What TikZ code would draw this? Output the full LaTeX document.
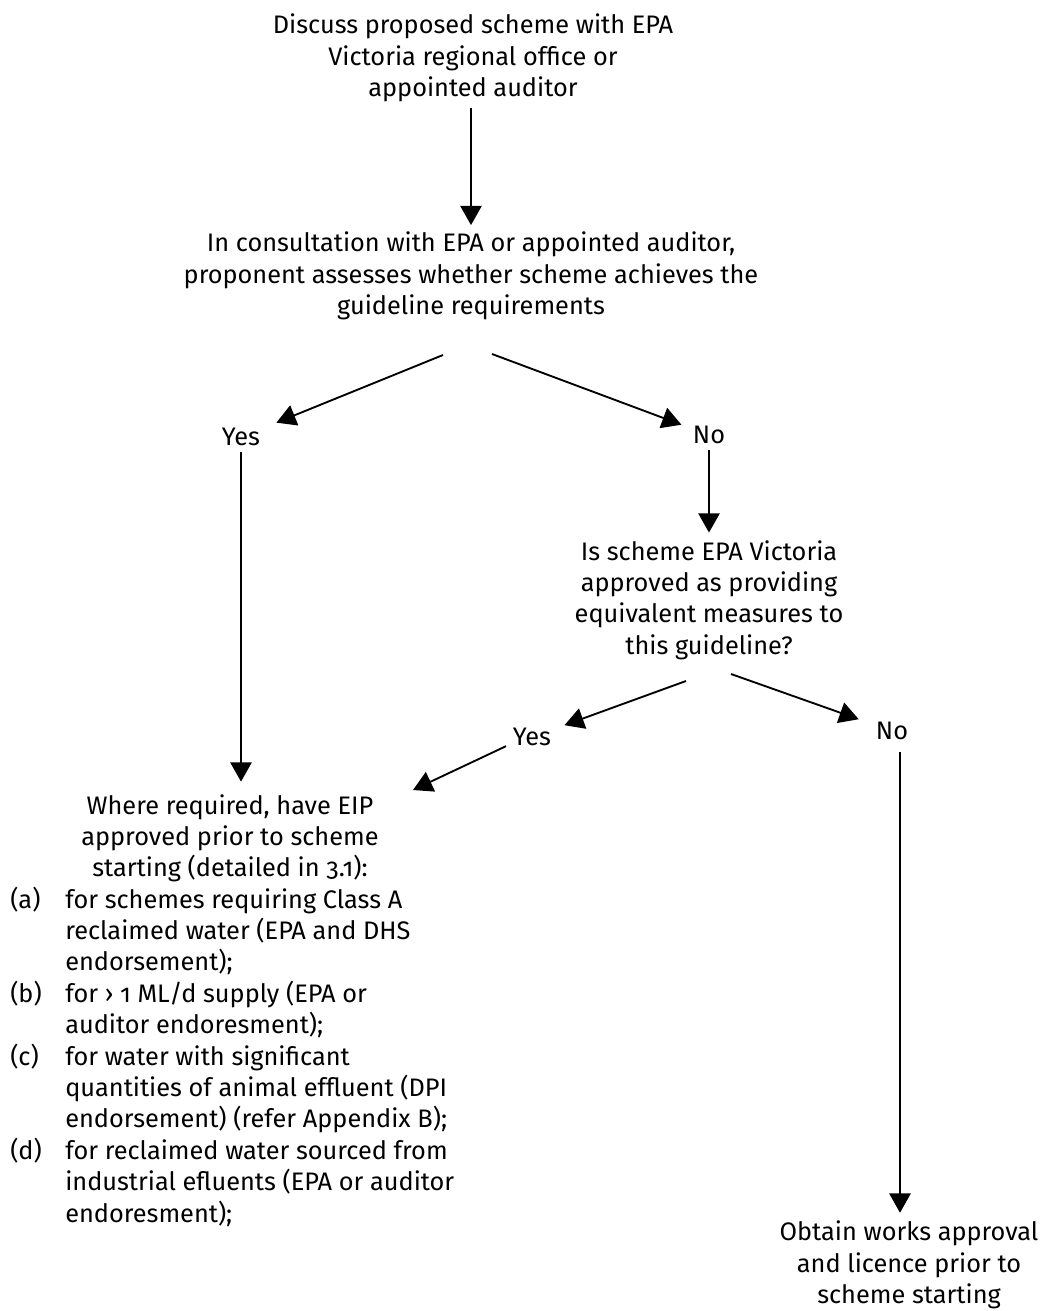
\documentclass[tikz,border=0pt]{standalone}
\usepackage{fontspec}
\IfFontExistsTF{Fira Sans Book}{\setmainfont{Fira Sans Book}[Numbers=OldStyle]}{\setmainfont{Fira Sans}[Numbers=OldStyle]}
\usetikzlibrary{arrows.meta}
\tikzset{
  txt/.style={align=center, inner sep=0pt, font=\fontsize{19}{23.55}\selectfont},
  lbl/.style={inner sep=0pt, font=\fontsize{19}{23.55}\selectfont},
  arr/.style={line width=1.4pt, -{Triangle[length=14.5pt,width=16pt]}},
}
\begin{document}
\begin{tikzpicture}[x=0.75pt,y=-0.75pt]
\path[use as bounding box] (0,0) rectangle (1041,1311);
\node[txt] (top) at (473,58) {Discuss proposed scheme with EPA\\Victoria regional office or\\appointed auditor};
\node[txt] (q1) at (471,276) {In consultation with EPA or appointed auditor,\\proponent assesses whether scheme achieves the\\guideline requirements};
\coordinate (b1l) at (443,355);
\coordinate (b1r) at (492,354);
\node[lbl] (yes1) at (241,437) {Yes};
\node[lbl] (no1) at (709,435) {No};
\node[txt] (q2) at (709,600) {Is scheme EPA Victoria\\approved as providing\\equivalent measures to\\this guideline?};
\coordinate (b2l) at (686,681);
\coordinate (b2r) at (731,674);
\node[lbl] (yes2) at (532,737) {Yes};
\node[lbl] (no2) at (892,731) {No};
\node[txt] (eip) at (230,838.4) {Where required, have EIP\\approved prior to scheme\\starting (detailed in 3.1):};
\node[lbl, anchor=base west] (list) at (10,908) {\begin{tabular}[t]{@{}p{41.25pt}@{}l@{}}
(a) & for schemes requiring Class A\\
    & reclaimed water (EPA and DHS\\
    & endorsement);\\
(b) & for › 1 ML/d supply (EPA or\\
    & auditor endoresment);\\
(c) & for water with significant\\
    & quantities of animal effluent (DPI\\
    & endorsement) (refer Appendix B);\\
(d) & for reclaimed water sourced from\\
    & industrial efluents (EPA or auditor\\
    & endoresment);
\end{tabular}};
\coordinate (eipin) at (413,790);
\node[txt] (works) at (909,1265) {Obtain works approval\\and licence prior to\\scheme starting};
\coordinate (no2b) at ([xshift=6pt,yshift=-9pt]no2.south);
\coordinate (yes2b) at ([xshift=-5pt]yes2.south west);
\draw[arr, shorten <=4.5pt, shorten >=5pt] (q1.north |- top.south) -- (q1.north);
\draw[arr, shorten >=13pt] (b1l) -- (yes1);
\draw[arr, shorten >=9pt] (b1r) -- (no1);
\draw[arr, shorten <=4.5pt, shorten >=9.4pt] (yes1.south) -- (yes1.south |- eip.north);
\draw[arr, shorten <=4.5pt, shorten >=5.6pt] (no1.south) -- (q2.north);
\draw[arr, shorten >=10.5pt] (b2l) -- (yes2);
\draw[arr, shorten >=13.5pt] (b2r) -- (no2);
\draw[arr] (yes2b) -- (eipin);
\draw[arr, shorten >=6pt] (no2b) -- (no2b |- works.north);
\end{tikzpicture}
\end{document}
